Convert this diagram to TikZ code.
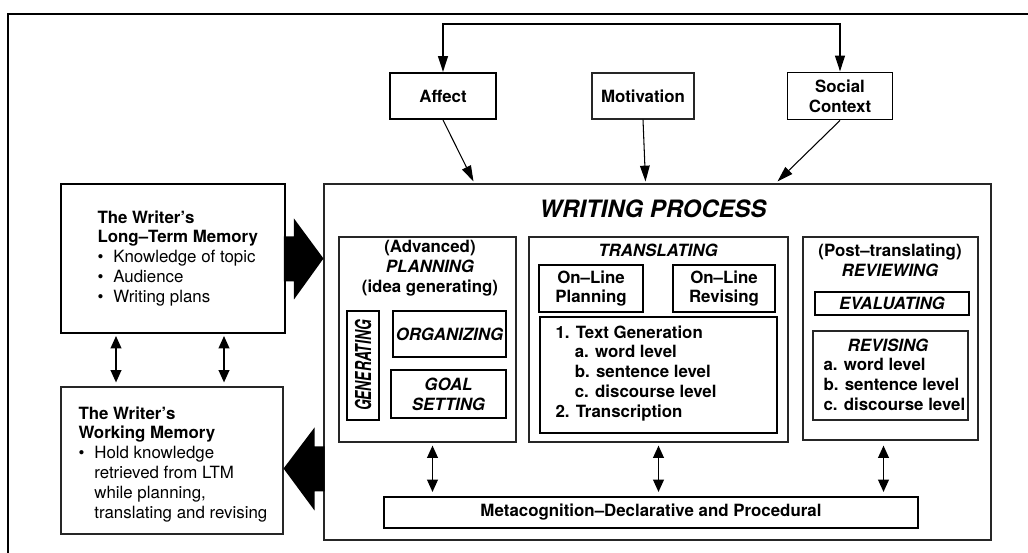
\documentclass[tikz,border=0pt]{standalone}
\usepackage{fontspec}
\setmainfont{TeX Gyre Heros}
\usepackage{graphicx}
\usetikzlibrary{arrows.meta}
\usetikzlibrary{positioning}
\usetikzlibrary{calc}

\newcommand{\blt}{\makebox[9pt][l]{\textbullet}}

\begin{document}
\begin{tikzpicture}[x=0.02cm,y=-0.02cm,>={Triangle[length=9pt,width=5.5pt]},semithick,
  font=\fontsize{9.6}{11.3}\selectfont\bfseries]
 \tikzstyle{thick box}=[rectangle,draw,line width=1.1pt,inner sep=1]
 \tikzstyle{thin box}=[rectangle,draw=black!85,line width=0.6pt,inner sep=1]
 \tikzset{
 	sz/.style 2 args={minimum width=#1*0.02cm,minimum height=#2*0.02cm},
 	heading/.style={align=center,inner sep=0},
 	list/.style={align=left,anchor=north west,inner sep=0},
 	ital/.style={font=\fontsize{9.6}{11.3}\selectfont\bfseries\itshape},
 	dbl/.style={<->,line width=1.1pt,>={Triangle[length=7pt,width=6pt]}},
 	thin arrow/.style={->,line width=0.6pt},
 	big arrow/.style={fill=black,draw=none}
 }

       \useasboundingbox (0,0) rectangle (1028,553);
       \clip (0,0) rectangle (1028,553);
       \draw[line width=1.2pt] (1050,14) -- (8,14) -- (8,570);

       % influences at the top
       \node[thick box,sz={106}{46}] (affect) at (443,96) {Affect};
       \node[thin box,sz={102}{46}] (motiv) at (643,96) {Motivation};
       \node[thick box,sz={105}{47},align=center] (social) at (840,96) {Social\\Context};

       % writing process
       \node[thin box,sz={667}{356}] (wp) at (657.5,362) {};
       \node[heading,font=\fontsize{13.6}{16}\selectfont\bfseries\itshape] (wptitle) at (653,209) {WRITING PROCESS};

       \node[thin box,sz={177}{205}] (plan) at (427.5,339.5) {};
       \node[heading] (plantitle) at (430,268) {(Advanced)\\\textit{PLANNING}\\(idea generating)};
       \node[thick box,sz={109}{32},rotate=90] (gen) at (363,365.5)
         {\fontsize{12.5}{14}\selectfont\itshape\scalebox{0.63}[1]{GENERATING}};
       \node[thick box,sz={113}{46},ital] (org) at (449.5,334) {ORGANIZING};
       \node[thick box,sz={115}{48},ital,align=center] (goal) at (448.5,394) {GOAL\\SETTING};

       \node[thin box,sz={259}{205}] (trans) at (658.5,339.5) {};
       \node[heading,ital] (transtitle) at (658,250) {TRANSLATING};
       \node[thick box,sz={104}{47},align=center] (olp) at (591,288.5) {On--Line\\Planning};
       \node[thick box,sz={102}{47},align=center] (olr) at (724,288.5) {On--Line\\Revising};
       \node[thick box,sz={237}{116}] (textgen) at (658.5,375) {};
       \node[list] (tglist) at (555,325)
         {1. Text Generation\\\hspace*{11pt}a. word level\\\hspace*{11pt}b. sentence level\\\hspace*{11pt}c. discourse level\\2. Transcription};

       \node[thin box,sz={175}{203}] (rev) at (890.5,338.5) {};
       \node[heading] (revtitle) at (890,260) {(Post--translating)\\\textit{REVIEWING}};
       \node[thick box,sz={154}{23},ital] (eval) at (892,303.5) {EVALUATING};
       \node[thin box,sz={155}{89},line width=0.9pt] (revis) at (890.5,375.5) {};
       \node[heading,ital] (revistitle) at (888,345) {REVISING};
       \node[list] (revlist) at (823,358) {a. word level\\b. sentence level\\c. discourse level};

       \node[thick box,sz={534}{31}] (meta) at (651,512.5) {Metacognition--Declarative and Procedural};

       % memories on the left
       \node[thick box,sz={224}{149}] (ltm) at (173,258.5) {};
       \node[list] (ltmlist) at (97,210)
         {The Writer's\\Long--Term Memory\\\mdseries\blt Knowledge of topic\\\mdseries\blt Audience\\\mdseries\blt Writing plans};
       \node[thin box,sz={222}{147}] (wm) at (172,460.5) {};
       \node[list] (wmlist) at (78,406)
         {The Writer's\\Working Memory\\\mdseries\blt Hold knowledge\\\mdseries\hspace*{9pt}retrieved from LTM\\\mdseries\hspace*{9pt}while planning,\\\mdseries\hspace*{9pt}translating and revising};

     \coordinate (fb) at (643,24);
     \path[draw,<->,line width=1.1pt] (affect.north) |- (fb) -| (social.north);

     \path[thin arrow] (affect.south) edge ($(wp.north)+(-184,-2)$);
     \path[thin arrow] (motiv.south) edge ($(wp.north)+(-12,-2)$);
     \path[thin arrow] (social.south) edge ($(wp.north)+(120,-2)$);

     \path[dbl] ($(ltm.south)+(-57,2)$) edge ($(wm.north)+(-56,-4)$);
     \path[dbl] ($(ltm.south)+(51,2)$) edge ($(wm.north)+(52,-4)$);

     \path[dbl] ($(plan.south)+(5,3)$) coordinate (p1) edge ($(p1 |- meta.north)+(0,-4)$);
     \path[dbl] ($(trans.south)+(0,3)$) coordinate (p2) edge ($(p2 |- meta.north)+(0,-4)$);
     \path[dbl] ($(rev.south)+(-7,5)$) coordinate (p3) edge ($(p3 |- meta.north)+(0,-4)$);

     \fill[big arrow] ($(ltm.east)+(-2,-22)$) -- ++(10,0) -- ++(0,-18) -- (wp.west |- ltm.east)
        -- ($(ltm.east)+(8,41)$) -- ++(0,-18) -- ++(-10,0) -- cycle;
     \fill[big arrow] ($(wm.east)+(0,8)$) -- ++(31,-41) -- ++(0,19) -- ++(10,0) -- ++(0,45)
        -- ++(-10,0) -- ++(0,19) -- cycle;
 \end{tikzpicture}
\end{document}
